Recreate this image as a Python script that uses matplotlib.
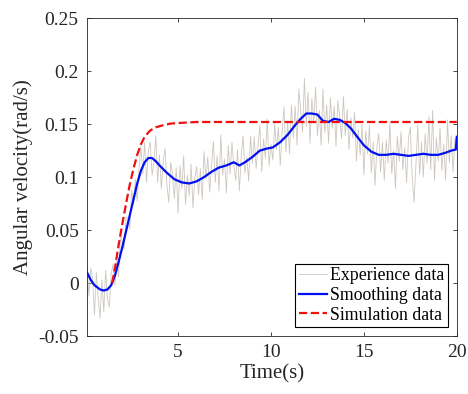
import numpy as np
import matplotlib.pyplot as plt
from matplotlib.ticker import FuncFormatter

plt.rcParams['font.family'] = ['Liberation Serif', 'DejaVu Serif']

# experience data, sampled every 0.1 s
exp_t = np.round(np.arange(1, 201) * 0.1, 1)
exp_y = [
    0.016, -0.012, 0.014, 0.004, -0.030, 0.010, -0.014, -0.033, 0.003, -0.027,
    0.012, -0.015, -0.023, 0.008, 0.018, -0.002, 0.022, 0.006, 0.048, 0.037,
    0.032, 0.062, 0.062, 0.051, 0.088, 0.074, 0.098, 0.077, 0.109, 0.129,
    0.103, 0.133, 0.095, 0.125, 0.133, 0.102, 0.113, 0.139, 0.095, 0.121,
    0.089, 0.115, 0.127, 0.092, 0.076, 0.114, 0.103, 0.080, 0.109, 0.066,
    0.111, 0.089, 0.120, 0.074, 0.102, 0.082, 0.112, 0.071, 0.099, 0.110,
    0.083, 0.108, 0.079, 0.124, 0.098, 0.119, 0.086, 0.111, 0.134, 0.095,
    0.120, 0.087, 0.140, 0.102, 0.117, 0.085, 0.130, 0.103, 0.133, 0.110,
    0.097, 0.126, 0.087, 0.120, 0.139, 0.104, 0.119, 0.096, 0.139, 0.113,
    0.138, 0.108, 0.129, 0.149, 0.105, 0.136, 0.118, 0.155, 0.111, 0.131,
    0.116, 0.151, 0.126, 0.147, 0.111, 0.143, 0.166, 0.124, 0.152, 0.122,
    0.168, 0.137, 0.167, 0.130, 0.183, 0.163, 0.142, 0.193, 0.148, 0.180,
    0.132, 0.174, 0.153, 0.185, 0.139, 0.163, 0.130, 0.183, 0.142, 0.168,
    0.132, 0.175, 0.146, 0.167, 0.129, 0.172, 0.157, 0.136, 0.176, 0.139,
    0.164, 0.126, 0.156, 0.137, 0.161, 0.115, 0.145, 0.121, 0.150, 0.102,
    0.144, 0.122, 0.149, 0.104, 0.133, 0.092, 0.128, 0.141, 0.105, 0.133,
    0.097, 0.135, 0.113, 0.151, 0.103, 0.125, 0.089, 0.139, 0.115, 0.143,
    0.107, 0.128, 0.095, 0.137, 0.147, 0.101, 0.076, 0.111, 0.149, 0.103,
    0.133, 0.100, 0.141, 0.113, 0.157, 0.107, 0.163, 0.097, 0.137, 0.115,
    0.146, 0.106, 0.131, 0.097, 0.154, 0.114, 0.139, 0.105, 0.136, 0.134,
]

# smoothed curve
smooth_t = [0.1, 0.3, 0.5, 0.8, 1.0, 1.2, 1.4, 1.6, 1.8, 2.0, 2.2, 2.4, 2.6, 2.8,
            3.0, 3.2, 3.4, 3.6, 3.8, 4.0, 4.4, 4.8, 5.2, 5.6, 6.0, 6.4, 6.8, 7.2,
            7.6, 8.0, 8.3, 8.6, 9.0, 9.4, 9.8, 10.1, 10.5, 10.9, 11.3, 11.6, 11.9,
            12.2, 12.5, 12.8, 13.1, 13.4, 13.7, 14.0, 14.3, 14.6, 15.0, 15.4, 15.8,
            16.2, 16.6, 17.0, 17.4, 17.8, 18.2, 18.6, 19.0, 19.4, 19.7, 19.95, 20.0]
smooth_y = [0.010, 0.003, -0.002, -0.006, -0.007, -0.006, -0.002, 0.007, 0.020,
            0.034, 0.049, 0.064, 0.079, 0.094, 0.106, 0.114, 0.118, 0.118, 0.115,
            0.111, 0.104, 0.098, 0.095, 0.094, 0.096, 0.100, 0.105, 0.109, 0.111,
            0.114, 0.111, 0.114, 0.119, 0.125, 0.127, 0.128, 0.133, 0.140, 0.149,
            0.155, 0.160, 0.160, 0.159, 0.153, 0.152, 0.155, 0.154, 0.151, 0.146,
            0.139, 0.130, 0.124, 0.121, 0.121, 0.122, 0.121, 0.120, 0.121, 0.122,
            0.121, 0.121, 0.123, 0.125, 0.126, 0.138]

# simulation response
sim_t = [1.45, 1.6, 1.8, 2.0, 2.2, 2.4, 2.6, 2.8, 3.0, 3.2, 3.5, 3.8, 4.2, 4.6,
         5.0, 6.0, 20.0]
sim_y = [0.0, 0.014, 0.036, 0.056, 0.075, 0.093, 0.108, 0.121, 0.131, 0.138,
         0.144, 0.147, 0.149, 0.1505, 0.151, 0.152, 0.152]

fig = plt.figure(figsize=(4.68, 3.94), dpi=100)
ax = fig.add_axes([0.186, 0.147, 0.79, 0.807])

ax.plot(exp_t, exp_y, color='#cdc7bf', linewidth=0.6, label='Experience data')
ax.plot(smooth_t, smooth_y, color='#0010f0', linewidth=1.6, label='Smoothing data')
ax.plot(sim_t, sim_y, color='#f01010', linewidth=1.6, linestyle='--',
        label='Simulation data')

ax.set_xlim(0.1, 20)
ax.set_ylim(-0.05, 0.25)
ax.set_xticks([5, 10, 15, 20])
ax.set_yticks([-0.05, 0, 0.05, 0.1, 0.15, 0.2, 0.25])
ax.yaxis.set_major_formatter(FuncFormatter(lambda v, p: '{:g}'.format(round(v, 2))))

ax.tick_params(direction='in', top=True, right=True, length=3, width=0.6,
               labelsize=14, colors='#262626', pad=6)
for s in ax.spines.values():
    s.set_linewidth(0.6)
    s.set_color('#262626')

ax.set_xlabel('Time(s)', fontsize=15, color='#262626', labelpad=2)
ax.set_ylabel('Angular velocity(rad/s)', fontsize=15, color='#262626', labelpad=4)

leg = ax.legend(loc='lower right', fontsize=12.8, fancybox=False, framealpha=1,
                edgecolor='black', borderpad=0.2, labelspacing=0.15,
                handlelength=1.6, handletextpad=0.15, borderaxespad=0.5)
leg.get_frame().set_linewidth(0.8)

fig.savefig('out.png', dpi=100)
